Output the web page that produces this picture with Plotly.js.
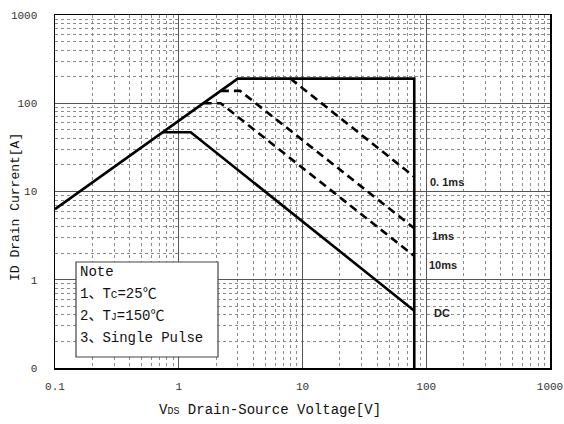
<!DOCTYPE html>
<html>
<head>
<meta charset="utf-8">
<script src="https://cdn.plot.ly/plotly-3.0.1.min.js"></script>
<style>html,body{margin:0;padding:0;background:#fff;}#chart{width:564px;height:424px;}</style>
</head>
<body>
<div id="chart"></div>
<script>
// Safe operating area data
const limitX = [0.1, 3, 80, 80];
const limitY = [6.3, 190, 190, 0.1];
const dcX = [0.745, 1.25, 80];
const dcY = [47, 47, 0.446];
const ms10X = [1.59, 2.18, 80];
const ms10Y = [100, 100, 1.86];
const ms1X = [2.19, 3.13, 80];
const ms1Y = [138, 138, 3.83];
const ms01X = [8, 80];
const ms01Y = [190, 14.7];
const tickVals = [0.1, 1, 10, 100, 1000];
const xTickText = ['0.1', '1', '10', '100', '1000'];
const yTickText = ['0', '1', '10', '100', '1000'];
const curveLabels = ['0. 1ms', '1ms', '10ms', 'DC'];
const noteLines = ['Note', '1、T<span style="font-size:11px">C</span>=25℃', '2、T<span style="font-size:10px">J</span>=150℃', '3、Single Pulse'];
const xTitle = 'V<span style="font-size:10px">DS</span> Drain-Source Voltage[V]';
const yTitle = 'ID Drain Current[A]';

const mono = '"Liberation Mono", "Noto Sans CJK SC", monospace';
const solid = {color: '#000', width: 2.6};
const dashed = {color: '#000', width: 2.6, dash: '8px,5px'};

const traces = [
  {x: limitX, y: limitY, mode: 'lines', line: solid},
  {x: dcX, y: dcY, mode: 'lines', line: solid},
  {x: ms10X, y: ms10Y, mode: 'lines', line: dashed},
  {x: ms1X, y: ms1Y, mode: 'lines', line: dashed},
  {x: ms01X, y: ms01Y, mode: 'lines', line: dashed}
];

const labelPos = [[147, 12.8], [137, 3.13], [137, 1.47], [134, 0.42]];
const annotations = curveLabels.map((t, i) => ({
  x: Math.log10(labelPos[i][0]), y: Math.log10(labelPos[i][1]),
  xref: 'x', yref: 'y', text: '<b>' + t + '</b>', showarrow: false,
  xanchor: 'center', yanchor: 'middle',
  font: {family: '"Liberation Sans", Arial, sans-serif', size: 11, color: '#222'}
}));
const noteY = [272, 294, 316, 338];
noteLines.forEach((t, i) => {
  annotations.push({
    x: 78, y: noteY[i], xref: 'paper', yref: 'paper', text: t, showarrow: false,
    xanchor: 'left', yanchor: 'middle',
    font: {family: mono, size: 14, color: '#111'}
  });
});
annotations.push({
  x: 270, y: 410, xref: 'paper', yref: 'paper', text: xTitle, showarrow: false,
  xanchor: 'center', yanchor: 'middle', font: {family: mono, size: 14, color: '#111'}
});
annotations.push({
  x: 15, y: 207, xref: 'paper', yref: 'paper', text: yTitle, showarrow: false, textangle: -90,
  xanchor: 'center', yanchor: 'middle', font: {family: mono, size: 13, color: '#111'}
});
// convert pixel positions to paper coordinates
const L = 55, R = 550, T = 15, B = 368;
annotations.forEach(a => {
  if (a.xref === 'paper') {
    a.x = (a.x - L) / (R - L);
    a.y = (B - a.y) / (B - T);
  }
});

const minorGrid = {showgrid: true, gridcolor: '#8a8a8a', griddash: 'dot', gridwidth: 1, ticklen: 0, dtick: 'D1'};

const layout = {
  width: 564, height: 424,
  margin: {l: L, r: 564 - R, t: T, b: 424 - B},
  paper_bgcolor: '#fff', plot_bgcolor: '#fff',
  showlegend: false,
  xaxis: {
    type: 'log', range: [-1, 3], tickvals: tickVals, ticktext: xTickText,
    showgrid: true, gridcolor: '#555', gridwidth: 1,
    showline: true, linecolor: '#000', linewidth: 1.5, mirror: true,
    ticks: 'outside', ticklen: 7, tickcolor: 'rgba(0,0,0,0)',
    tickfont: {family: mono, size: 11, color: '#333'}, ticklabeloverflow: 'allow',
    minor: minorGrid, zeroline: false
  },
  yaxis: {
    type: 'log', range: [-1, 3], tickvals: tickVals, ticktext: yTickText,
    showgrid: true, gridcolor: '#555', gridwidth: 1,
    showline: true, linecolor: '#000', linewidth: 1.5, mirror: true,
    ticks: 'outside', ticklen: 14, tickcolor: 'rgba(0,0,0,0)',
    tickfont: {family: mono, size: 11, color: '#333'}, ticklabeloverflow: 'allow',
    minor: minorGrid, zeroline: false
  },
  shapes: [{
    type: 'rect', xref: 'paper', yref: 'paper',
    x0: (76 - L) / (R - L), x1: (218 - L) / (R - L),
    y0: (B - 357) / (B - T), y1: (B - 262) / (B - T),
    fillcolor: '#fff', line: {color: '#444', width: 1.2}, layer: 'above'
  }],
  annotations: annotations
};

Plotly.newPlot('chart', traces, layout, {displayModeBar: false, staticPlot: true});
</script>
</body>
</html>
